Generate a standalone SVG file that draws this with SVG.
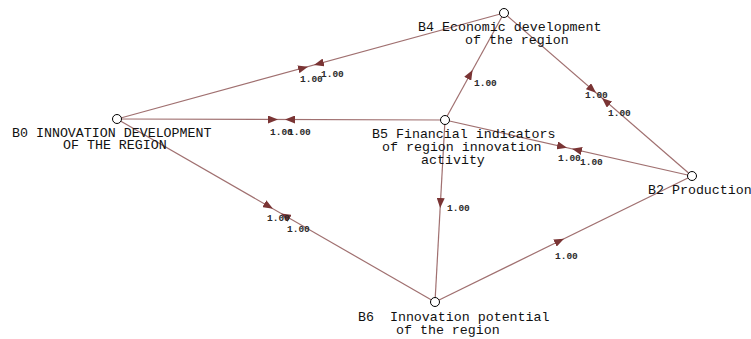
<svg xmlns="http://www.w3.org/2000/svg" width="751" height="339" viewBox="0 0 751 339">
<style>
.e{stroke:#a07070;stroke-width:1.2;fill:none}
.a{stroke:none;fill:none;marker-end:url(#ah)}
.w{font-family:"Liberation Mono","DejaVu Sans Mono",monospace;font-size:9.5px;font-weight:bold;fill:#2a2a2a}
.n{fill:#fff;stroke:#000;stroke-width:1}
.t{font-family:"Liberation Mono","Courier New",monospace;font-size:13.3px;fill:#111}
</style>
<defs>
<marker id="ah" viewBox="0 0 10 8" refX="10" refY="4" markerWidth="10" markerHeight="8" markerUnits="userSpaceOnUse" orient="auto">
<path d="M0,0 L10,4 L0,8 z" fill="#7a3434"/>
</marker>
</defs>
<rect width="751" height="339" fill="#fff"/>
<g id="connectors">
<line class="e" x1="117" y1="119" x2="504" y2="13"/>
<line class="e" x1="117" y1="119" x2="445" y2="120"/>
<line class="e" x1="117" y1="119" x2="435" y2="302"/>
<line class="e" x1="445" y1="120" x2="435" y2="302"/>
<line class="e" x1="435" y1="302" x2="692" y2="176"/>
<line class="e" x1="445" y1="120" x2="504" y2="13"/>
<line class="e" x1="504" y1="13" x2="692" y2="176"/>
<line class="e" x1="445" y1="120" x2="692" y2="176"/>
<path class="a" d="M306.07,67.23 L308,66.7"/>
<path class="a" d="M315.93,64.51 L314,65.04"/>
<path class="a" d="M276,119.5 L278,119.5"/>
<path class="a" d="M287,119.5 L285,119.5"/>
<path class="a" d="M271.27,207.8 L273,208.8"/>
<path class="a" d="M282.73,214.4 L281,213.4"/>
<path class="a" d="M440.27,206 L440.16,208"/>
<path class="a" d="M562.2,239.6 L564,238.75"/>
<path class="a" d="M471.6,71.75 L472.57,70"/>
<path class="a" d="M594.5,91.46 L596,92.77"/>
<path class="a" d="M603.5,99.3 L602,97.97"/>
<path class="a" d="M565.05,147.2 L567,147.66"/>
<path class="a" d="M573.95,149.24 L572,148.8"/>
<text class="w" x="300" y="82">1.00</text>
<text class="w" x="321" y="77">1.00</text>
<text class="w" x="270" y="135">1.00</text>
<text class="w" x="288" y="135">1.00</text>
<text class="w" x="267" y="221">1.00</text>
<text class="w" x="287" y="232">1.00</text>
<text class="w" x="447" y="211">1.00</text>
<text class="w" x="555" y="259">1.00</text>
<text class="w" x="474" y="86">1.00</text>
<text class="w" x="585" y="98">1.00</text>
<text class="w" x="608" y="116">1.00</text>
<text class="w" x="558" y="161">1.00</text>
<text class="w" x="580" y="165">1.00</text>
</g>
<g id="B4">
<circle class="n" cx="504" cy="13" r="4.5"/>
<text class="t" x="418" y="31">B4 Economic development</text>
<text class="t" x="465" y="44">of the region</text>
</g>
<g id="B0">
<circle class="n" cx="117" cy="119" r="4.5"/>
<text class="t" x="12" y="137">B0 INNOVATION DEVELOPMENT</text>
<text class="t" x="63" y="149">OF THE REGION</text>
</g>
<g id="B5">
<circle class="n" cx="445" cy="120" r="4.5"/>
<text class="t" x="372" y="138">B5 Financial indicators</text>
<text class="t" x="382" y="151">of region innovation</text>
<text class="t" x="421" y="164">activity</text>
</g>
<g id="B2">
<circle class="n" cx="692" cy="176" r="4.5"/>
<text class="t" x="648" y="194">B2 Production</text>
</g>
<g id="B6">
<circle class="n" cx="435" cy="302" r="4.5"/>
<text class="t" x="358" y="321" xml:space="preserve">B6  Innovation potential</text>
<text class="t" x="396" y="334">of the region</text>
</g>
</svg>
